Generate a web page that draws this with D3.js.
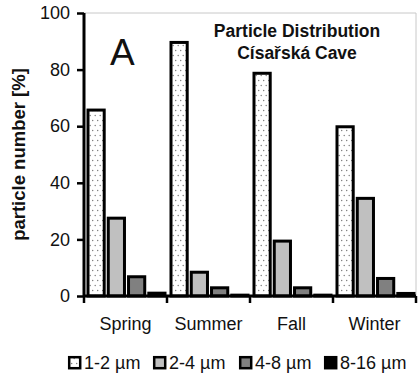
<!DOCTYPE html>
<html>
<head>
<meta charset="utf-8">
<script src="https://cdn.jsdelivr.net/npm/d3@7"></script>
<style>
  body { margin: 0; background: #fff; }
  text { font-family: Arial, "Liberation Sans", sans-serif; }
</style>
</head>
<body>
<div class="chart"></div>
<script>
// data
var seasons = ["Spring", "Summer", "Fall", "Winter"];
var sizes = ["1-2 µm", "2-4 µm", "4-8 µm", "8-16 µm"];
var small = [65.7, 89.6, 78.7, 59.8];   // 1-2 µm
var mid = [27.5, 8.4, 19.4, 34.5];      // 2-4 µm
var large = [6.8, 2.9, 2.9, 6.2];       // 4-8 µm
var huge = [1.0, 0.3, 0.3, 0.9];        // 8-16 µm
var yTicks = [0, 20, 40, 60, 80, 100];

var series = [small, mid, large, huge];
var fills = ["url(#dots)", "#c0c0c0", "#808080", "#000"];

var svgWidth = 418;
var svgHeight = 378;

var margin = { top: 13, right: 2, bottom: 82, left: 84 };
var width = svgWidth - margin.left - margin.right;
var height = svgHeight - margin.top - margin.bottom;

var svg = d3.select(".chart")
  .append("svg")
  .attr("width", svgWidth)
  .attr("height", svgHeight);

// dotted fill for the 1-2 µm bars
var pat = svg.append("defs").append("pattern")
  .attr("id", "dots")
  .attr("patternUnits", "userSpaceOnUse")
  .attr("width", 5)
  .attr("height", 10);
pat.append("rect").attr("width", 5).attr("height", 10).attr("fill", "#fff");
pat.append("circle").attr("cx", 1.2).attr("cy", 2.5).attr("r", 0.7).attr("fill", "#777");
pat.append("circle").attr("cx", 3.7).attr("cy", 7.5).attr("r", 0.7).attr("fill", "#777");

var chartGroup = svg.append("g")
  .attr("transform", `translate(${margin.left}, ${margin.top})`);

var xScale = d3.scaleBand()
  .domain(seasons)
  .range([0, width]);

var xInner = d3.scaleBand()
  .domain(d3.range(sizes.length))
  .range([4, xScale.bandwidth() - 2])
  .paddingInner(0.2);

var yScale = d3.scaleLinear()
  .domain([0, 100])
  .range([height, 0]);

// light frame: top line and right side
chartGroup.append("line")
  .attr("x1", 0).attr("x2", width)
  .attr("y1", yScale(100)).attr("y2", yScale(100))
  .attr("stroke", "#c8c8c8").attr("stroke-width", 1);
chartGroup.append("line")
  .attr("x1", width).attr("x2", width)
  .attr("y1", yScale(100)).attr("y2", height)
  .attr("stroke", "#c8c8c8").attr("stroke-width", 1);

// bars
var groups = chartGroup.selectAll("g.season")
  .data(seasons)
  .enter()
  .append("g")
  .attr("class", "season")
  .attr("transform", d => `translate(${xScale(d)}, 0)`);

groups.selectAll("rect")
  .data((d, i) => series.map((s, j) => ({ k: j, v: s[i] })))
  .enter()
  .append("rect")
  .attr("x", d => xInner(d.k))
  .attr("width", xInner.bandwidth())
  .attr("y", d => yScale(d.v))
  .attr("height", d => height - yScale(d.v))
  .attr("fill", d => fills[d.k])
  .attr("stroke", "#000")
  .attr("stroke-width", 3);

// y axis
var leftAxis = d3.axisLeft(yScale)
  .tickValues(yTicks)
  .tickSize(7)
  .tickPadding(7);
var yAxis = chartGroup.append("g").call(leftAxis);
yAxis.select(".domain").attr("stroke-width", 3).attr("d", `M0,${yScale(100)}V${height}`);
yAxis.selectAll(".tick line").attr("stroke-width", 2.5);
yAxis.selectAll(".tick text")
  .attr("font-size", 18)
  .attr("font-family", "Arial, 'Liberation Sans', sans-serif")
  .attr("fill", "#111");

// x axis: line, boundary ticks, centred labels
chartGroup.append("line")
  .attr("x1", 0).attr("x2", width)
  .attr("y1", height).attr("y2", height)
  .attr("stroke", "#000").attr("stroke-width", 3);

var bounds = seasons.map(s => xScale(s)).concat([width]);
chartGroup.selectAll("line.xtick")
  .data(bounds)
  .enter()
  .append("line")
  .attr("class", "xtick")
  .attr("x1", d => d).attr("x2", d => d)
  .attr("y1", height).attr("y2", height + 7)
  .attr("stroke", "#000").attr("stroke-width", 2.5);

chartGroup.selectAll("text.season")
  .data(seasons)
  .enter()
  .append("text")
  .attr("class", "season")
  .attr("x", d => xScale(d) + xScale.bandwidth() / 2)
  .attr("y", height + 34)
  .attr("text-anchor", "middle")
  .attr("font-size", 18)
  .attr("fill", "#111")
  .text(d => d);

// y label
svg.append("text")
  .attr("transform", "rotate(-90)")
  .attr("x", -(margin.top + height / 2))
  .attr("y", 25)
  .attr("text-anchor", "middle")
  .attr("font-size", 18.5)
  .attr("font-weight", "bold")
  .attr("fill", "#111")
  .text("particle number [%]");

// panel letter
svg.append("text")
  .attr("x", 110)
  .attr("y", 65)
  .attr("font-size", 37)
  .attr("fill", "#111")
  .text("A");

// title
var title = svg.append("text")
  .attr("text-anchor", "middle")
  .attr("font-size", 17.5)
  .attr("font-weight", "bold")
  .attr("fill", "#111");
title.append("tspan").attr("x", 297).attr("y", 37).text("Particle Distribution");
title.append("tspan").attr("x", 297).attr("y", 59).text("Císařská Cave");

// legend
var legendX = [68, 153, 239, 324];
var legend = svg.selectAll("g.legend")
  .data(sizes)
  .enter()
  .append("g")
  .attr("class", "legend")
  .attr("transform", (d, i) => `translate(${legendX[i]}, 356)`);

legend.append("rect")
  .attr("x", 1.2).attr("y", 1.2)
  .attr("width", 11).attr("height", 11)
  .attr("fill", (d, i) => fills[i])
  .attr("stroke", "#000")
  .attr("stroke-width", 2.5);

legend.append("text")
  .attr("x", 16)
  .attr("y", 13)
  .attr("font-size", 18)
  .attr("fill", "#111")
  .text(d => d);
</script>
</body>
</html>
